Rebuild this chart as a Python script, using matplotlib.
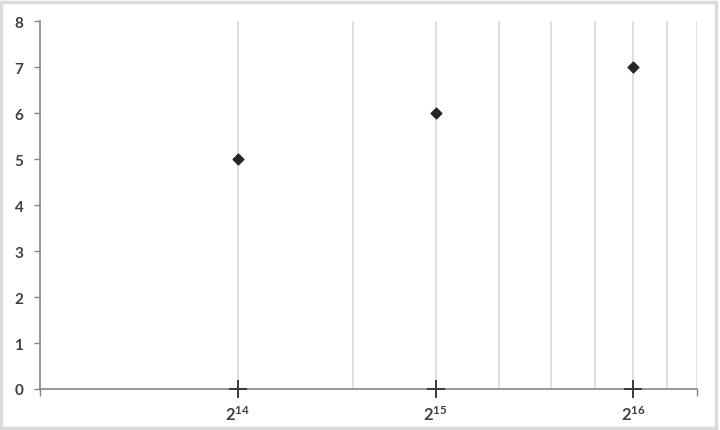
import matplotlib.pyplot as plt
from matplotlib.patches import Rectangle
from matplotlib.ticker import NullFormatter

# data
x_values = [2**14, 2**15, 2**16]
y_values = [5, 6, 7]
base_values = [0, 0, 0]
x_tick_values = [2**14, 2**15, 2**16]
x_tick_labels = [r'$\mathbf{2^{14}}$', r'$\mathbf{2^{15}}$', r'$\mathbf{2^{16}}$']
y_tick_values = [0, 1, 2, 3, 4, 5, 6, 7, 8]

# log10 axis running from 8192 to 81920, gridlines at the multiples of 8192
x_min = 8192
x_max = 81920
grid_multiples = [2, 3, 4, 5, 6, 7, 8, 9, 10]

plt.rcParams['font.family'] = ['Lato', 'DejaVu Sans']
plt.rcParams['mathtext.fontset'] = 'custom'
plt.rcParams['mathtext.rm'] = 'Lato'
plt.rcParams['mathtext.bf'] = 'Lato:bold'

text_color = '#404040'
axis_color = '#868686'
grid_color = '#d9d9d9'

fig = plt.figure(figsize=(7.2, 4.31), dpi=100)
ax = fig.add_axes([40 / 720, 41 / 431, 657 / 720, 368 / 431])

ax.set_xscale('log')
ax.set_xlim(x_min, x_max)
ax.set_ylim(0, 8)

for k in grid_multiples:
    ax.axvline(x_min * k, color=grid_color, linewidth=1.2, zorder=1)

ax.scatter(x_values, y_values, marker='D', s=30, color='#262626', zorder=3)
# cross markers sitting on the x axis
ax.scatter(x_values, base_values, marker='+', s=150, linewidths=1.4,
           color='#3a3a3a', zorder=4, clip_on=False)

ax.set_xticks(x_tick_values)
ax.set_xticklabels(x_tick_labels)
ax.set_xticks([x_min, x_max], minor=True)
ax.xaxis.set_minor_formatter(NullFormatter())
ax.tick_params(axis='x', which='major', length=0, labelsize=12,
               labelcolor=text_color, pad=11)
ax.tick_params(axis='x', which='minor', direction='out', length=5, width=1,
               color=axis_color)

ax.set_yticks(y_tick_values)
ax.tick_params(axis='y', direction='out', length=4, width=1, color=axis_color,
               labelsize=11, labelcolor=text_color, pad=8)
for lbl in ax.get_yticklabels():
    lbl.set_fontweight('bold')

for side in ['top', 'right']:
    ax.spines[side].set_visible(False)
for side in ['left', 'bottom']:
    ax.spines[side].set_color(axis_color)
    ax.spines[side].set_linewidth(1.2)

# light grey chart border
fig.patches.append(Rectangle((0.002, 0.004), 0.993, 0.99, transform=fig.transFigure,
                             fill=False, edgecolor='#dadada', linewidth=2.5))

fig.savefig('out.png', dpi=100)
